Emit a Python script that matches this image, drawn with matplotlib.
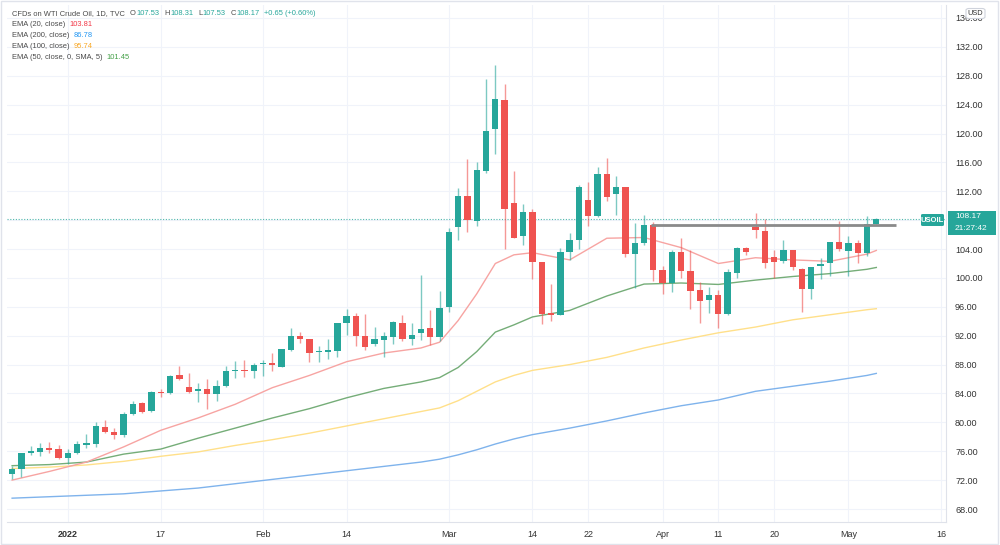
import numpy as np
import matplotlib
matplotlib.use("Agg")
import matplotlib.pyplot as plt
from matplotlib.patches import FancyBboxPatch, Rectangle

plt.rcParams["font.family"] = ["Liberation Sans", "DejaVu Sans"]

# daily candles, Dec 24 2021 -> May 5 2022 (one bar per trading day)
opens = [72.8, 73.5, 75.8, 75.9, 76.4, 76.3, 75.1, 75.7, 76.9, 77.0,
         79.4, 78.7, 78.2, 81.2, 82.7, 81.6, 84.2, 84.1, 86.5, 84.85,
         84.4, 84.6, 83.9, 85.0, 87.1, 87.3, 87.1, 88.1, 88.2, 87.7,
         90.0, 91.9, 91.5, 89.75, 89.8, 89.9, 93.7, 94.7, 92.0, 90.8,
         91.4, 91.8, 93.8, 91.55, 92.4, 93.1, 91.8, 96.0, 107.0, 111.3,
         107.9, 114.85, 120.6, 124.6, 110.4, 105.8, 109.1, 102.2, 95.1, 94.9,
         103.55, 105.25, 110.8, 108.6, 114.35, 111.6, 112.6, 103.3, 104.9, 107.3,
         101.1, 99.25, 103.65, 101.0, 98.3, 96.9, 97.6, 95.0, 100.7, 104.2,
         107.1, 106.55, 102.95, 102.35, 103.9, 101.25, 98.5, 101.65, 102.05, 105.0,
         103.8, 104.8, 103.4, 107.53]
highs = [74.0, 75.8, 76.7, 77.1, 77.3, 76.9, 76.3, 77.4, 78.4, 80.0,
         80.3, 79.2, 81.5, 83.0, 82.8, 84.4, 84.6, 86.6, 87.85, 86.9,
         85.4, 86.0, 85.9, 87.8, 88.5, 88.7, 88.2, 88.6, 89.6, 90.2,
         93.0, 92.55, 91.6, 90.6, 91.6, 93.8, 95.7, 95.1, 95.0, 93.2,
         92.55, 94.0, 94.9, 93.8, 100.4, 95.6, 98.2, 106.9, 112.5, 116.5,
         116.0, 127.6, 129.5, 126.8, 114.85, 110.2, 109.55, 102.25, 99.1, 104.1,
         106.2, 112.9, 113.25, 115.3, 116.6, 114.1, 112.6, 107.65, 108.7, 107.8,
         101.7, 103.9, 105.5, 103.9, 99.5, 98.8, 98.3, 101.3, 104.3, 104.3,
         108.95, 108.1, 103.9, 105.25, 103.9, 101.35, 101.55, 102.8, 105.0, 107.9,
         105.85, 105.25, 108.6, 108.31]
lows = [72.2, 72.5, 75.5, 75.3, 75.7, 74.9, 74.3, 75.6, 76.4, 76.6,
        78.5, 77.7, 78.0, 81.0, 81.3, 81.4, 83.5, 83.9, 85.8, 84.1,
        82.8, 81.85, 83.0, 84.9, 86.2, 86.3, 86.2, 86.4, 87.1, 87.6,
        89.9, 90.95, 88.4, 88.4, 88.8, 89.1, 92.1, 90.6, 90.0, 90.6,
        89.0, 90.8, 91.3, 90.7, 91.4, 90.7, 91.2, 95.3, 105.3, 106.4,
        107.2, 114.5, 117.2, 104.0, 105.5, 104.5, 99.8, 93.6, 94.1, 94.8,
        102.5, 104.05, 107.2, 108.5, 110.7, 108.7, 102.95, 98.6, 104.55, 99.6,
        97.8, 98.1, 99.95, 95.75, 93.8, 95.1, 93.0, 94.9, 99.95, 103.2,
        105.6, 101.35, 99.95, 102.05, 101.1, 95.3, 97.1, 99.85, 100.2, 103.8,
        100.3, 102.1, 103.05, 107.53]
closes = [73.5, 75.8, 76.0, 76.4, 76.2, 75.1, 75.8, 77.0, 77.1, 79.5,
          78.7, 78.2, 81.2, 82.6, 81.4, 84.2, 84.1, 86.4, 86.0, 84.25,
          84.6, 83.9, 85.0, 87.1, 87.2, 87.1, 88.0, 88.2, 87.9, 90.1,
          91.9, 91.5, 89.6, 89.9, 90.0, 93.8, 94.7, 92.0, 90.5, 91.6,
          91.9, 93.85, 91.5, 92.1, 92.9, 91.8, 95.8, 106.3, 111.35, 108.0,
          114.9, 120.35, 124.8, 109.5, 105.6, 109.1, 102.2, 95.0, 94.9, 103.55,
          105.25, 112.6, 108.6, 114.35, 111.2, 112.6, 103.3, 104.9, 107.3, 101.1,
          99.25, 103.55, 101.0, 98.2, 96.85, 97.6, 95.0, 100.85, 104.2, 103.65,
          106.6, 102.1, 102.25, 103.9, 101.55, 98.5, 101.55, 101.9, 105.0, 103.95,
          104.8, 103.4, 107.45, 108.17]

# moving averages
ema_bars = [0, 4, 8, 12, 16, 20, 24, 28, 32, 36, 40, 44, 46, 48, 50, 52,
            54, 56, 60, 64, 68, 72, 76, 80, 84, 88, 92, 93]
ema20 = [72.0, 73.2, 74.5, 76.6, 78.9, 80.6, 82.5, 84.8, 86.5, 88.4, 89.6, 90.3,
         91.1, 94.1, 97.8, 102.0, 103.2, 103.5, 102.5, 105.5, 105.6, 104.2,
         102.0, 102.8, 102.5, 102.3, 103.3, 103.81]
ema50 = [74.0, 74.15, 74.5, 75.6, 76.3, 77.8, 79.2, 80.6, 81.9, 83.4, 84.7, 85.6,
         86.2, 87.6, 89.8, 92.5, 93.5, 94.6, 95.5, 97.5, 99.15, 99.3,
         99.1, 99.7, 100.2, 100.6, 101.2, 101.45]
ema100 = [73.6, 73.8, 74.1, 74.6, 75.3, 75.9, 76.8, 77.6, 78.5, 79.5, 80.5, 81.5,
          82.0, 83.0, 84.3, 85.6, 86.5, 87.2, 88.0, 89.0, 90.3, 91.4,
          92.4, 93.2, 94.2, 94.9, 95.6, 95.74]
ema200 = [69.5, 69.7, 69.9, 70.1, 70.5, 70.9, 71.5, 72.1, 72.7, 73.3, 73.9, 74.5,
          74.9, 75.5, 76.2, 77.0, 77.7, 78.3, 79.2, 80.2, 81.3, 82.3,
          83.1, 84.3, 85.0, 85.7, 86.5, 86.78]

resistance = 107.35
last_price = 108.17

tick_bars = [6, 16, 27, 36, 47, 56, 62, 70, 76, 82, 90, 100]
tick_text = ["2022", "17", "Feb", "14", "Mar", "14", "22", "Apr", "11", "20", "May", "16"]
price_ticks = np.arange(68, 140, 4)

UP = "#26a69a"
DOWN = "#ef5350"

W, H = 1000, 545
fig = plt.figure(figsize=(10, 5.45), dpi=100)
ax = fig.add_axes([7 / W, 23 / H, 939 / W, 517 / H])

def fx(x):
    return x / W

def fy(y):
    return 1 - y / H

x = np.arange(len(opens))
o = np.array(opens); c = np.array(closes)
col = [UP if cc >= oo else DOWN for oo, cc in zip(o, c)]

# grid
for p in price_ticks:
    ax.axhline(p, color="#f0f3fa", lw=0.8, zorder=0)
for t in tick_bars:
    ax.axvline(t, color="#f0f3fa", lw=0.8, zorder=0)

# moving averages
ax.plot(ema_bars, ema200, color="#7fb3ec", lw=1, zorder=1)
ax.plot(ema_bars, ema100, color="#ffe08a", lw=1, zorder=1)
ax.plot(ema_bars, ema50, color="#75ad78", lw=1, zorder=1)
ax.plot(ema_bars, ema20, color="#f7a4a2", lw=1, zorder=1)

# candles
ax.vlines(x, lows, highs, colors=col, lw=1, alpha=0.6, zorder=2)
body = np.maximum(np.abs(c - o), 0.16)
ax.bar(x, body, bottom=np.minimum(o, c), width=0.68, color=col, zorder=3)

# horizontal level and last price line
ax.hlines(resistance, 68.7, 95.1, color="#8a8a8a", lw=2, zorder=4)
ax.axhline(last_price, color=UP, lw=0.8, ls=(0, (1, 1.5)), alpha=0.8, zorder=1)

ax.set_xlim(-0.55, 100.5)
ax.set_ylim(66.2, 137.8)

ax.set_xticks(tick_bars)
ax.set_xticklabels(tick_text)
for lab in ax.get_xticklabels():
    if lab.get_text() == "2022":
        lab.set_fontweight("bold")
ax.set_yticks(price_ticks)
# the 108.00 label sits under the last-price tag
ax.set_yticklabels(["" if p == 108 else "%.2f" % p for p in price_ticks])
ax.yaxis.tick_right()
ax.tick_params(axis="both", length=0, labelsize=6.5, colors="#333333")
ax.tick_params(axis="y", pad=6.5)
ax.tick_params(axis="x", pad=6)
for s in ["top", "left"]:
    ax.spines[s].set_visible(False)
for s in ["bottom", "right"]:
    ax.spines[s].set_color("#dfe2ea")

# price tags
fig.patches.append(FancyBboxPatch((fx(921), fy(226)), 23 / W, 12 / H,
                                  boxstyle="round,pad=0,rounding_size=0.002",
                                  transform=fig.transFigure, fc=UP, ec="none"))
fig.text(fx(932.5), fy(220), "USOIL", color="white", fontsize=5.5, fontweight="bold",
         ha="center", va="center")
fig.patches.append(Rectangle((fx(948), fy(235)), 48 / W, 24 / H,
                             transform=fig.transFigure, fc=UP, ec="none"))
fig.text(fx(955), fy(216.5), "108.17", color="white", fontsize=6, va="center")
fig.text(fx(955), fy(228.5), "21:27:42", color="white", fontsize=6, va="center")

# USD box
fig.patches.append(FancyBboxPatch((fx(966), fy(18.5)), 19 / W, 10 / H,
                                  boxstyle="round,pad=0,rounding_size=0.003",
                                  transform=fig.transFigure, fc="white", ec="#cfd3dc", lw=0.8,
                                  zorder=5))
fig.text(fx(975.5), fy(13.5), "USD", color="#333333", fontsize=5.3, ha="center", va="center",
         zorder=6)

# outer frame
fig.patches.append(Rectangle((0.001, 0.001), 0.997, 0.997, transform=fig.transFigure,
                             fill=False, ec="#e0e3eb", lw=1))

# legend text, pieces placed one after another
renderer = fig.canvas.get_renderer()
grey = "#4a4a4a"
fs = 5.4

def chain(pieces, x0, y):
    cur = x0
    for txt, color, gap in pieces:
        t = fig.text(fx(cur), fy(y), txt, color=color, fontsize=fs, va="center")
        cur += t.get_window_extent(renderer).width + gap

chain([("CFDs on WTI Crude Oil, 1D, TVC", grey, 5),
       ("O", grey, 0.5), ("107.53", UP, 5),
       ("H", grey, 0.5), ("108.31", UP, 5),
       ("L", grey, 0.5), ("107.53", UP, 5),
       ("C", grey, 0.5), ("108.17", UP, 4),
       ("+0.65 (+0.60%)", UP, 0)], 12, 13.5)

rows = [("EMA (20, close)", "103.81", "#f23645"),
        ("EMA (200, close)", "86.78", "#2196f3"),
        ("EMA (100, close)", "95.74", "#f9a825"),
        ("EMA (50, close, 0, SMA, 5)", "101.45", "#43a047")]
for i, (name, val, vc) in enumerate(rows):
    chain([(name, grey, 4), (val, vc, 0)], 12, 24.5 + i * 11)

fig.savefig("out.png", dpi=100)
